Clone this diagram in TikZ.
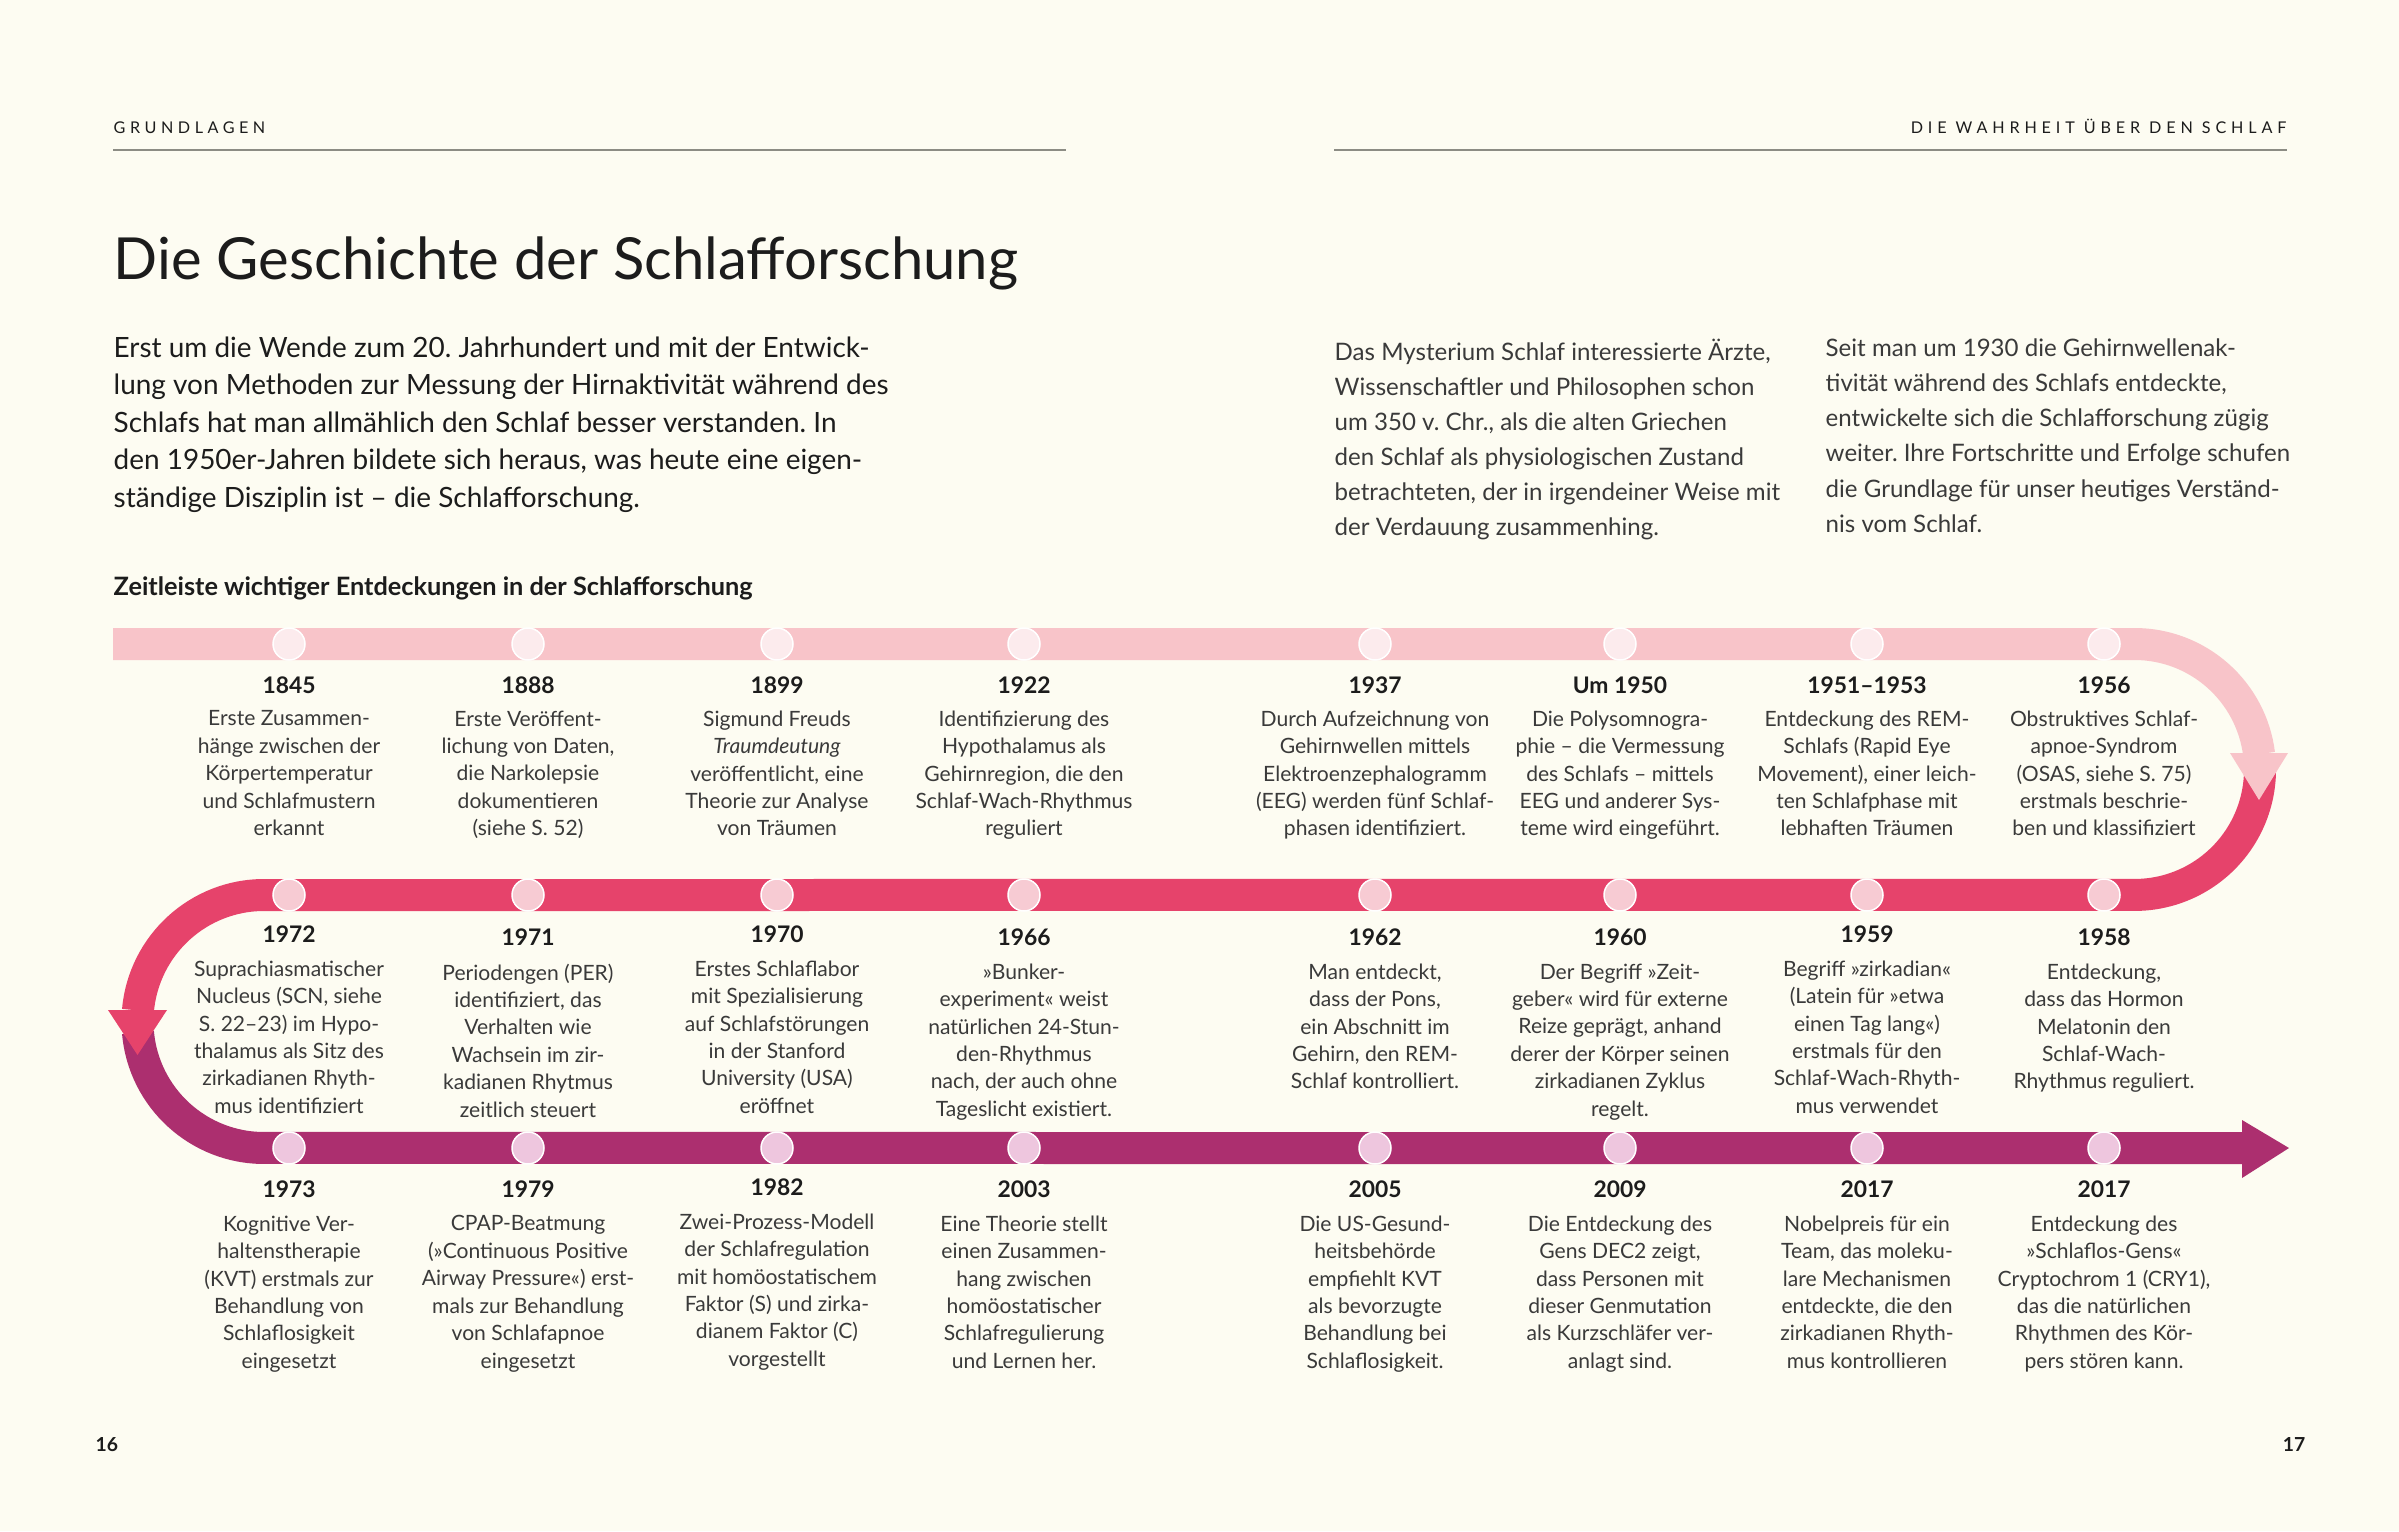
\documentclass[tikz,border=0pt]{standalone}
\usepackage{fontspec}
\setmainfont{Lato}
\frenchspacing

\definecolor{paper}{RGB}{253,252,242}
\definecolor{rose}{RGB}{248,196,201}
\definecolor{raspberry}{RGB}{230,67,107}
\definecolor{plum}{RGB}{172,47,111}
\definecolor{roselight}{RGB}{252,235,237}
\definecolor{raspberrylight}{RGB}{247,203,211}
\definecolor{plumlight}{RGB}{238,198,222}
\definecolor{ink}{RGB}{28,28,28}
\definecolor{softink}{RGB}{58,58,58}
\definecolor{rulegray}{RGB}{140,140,132}

\begin{document}
\begin{tikzpicture}[x=0.1mm,y=-0.1mm,
  year/.style={font=\fontsize{6.5}{7}\selectfont\bfseries,text=ink,inner sep=0},
  info/.style={font=\fontsize{6}{7.8}\selectfont,text=softink,align=center,
    anchor=north,inner sep=0},
  dot/.style={circle,minimum size=3.2mm,inner sep=0,draw=white,line width=0.15mm},
  topdot/.style={dot,fill=roselight},
  middot/.style={dot,fill=raspberrylight},
  lowdot/.style={dot,fill=plumlight},
  band/.style={line width=3.2mm}]

  \fill[paper] (0,0) rectangle (2399,1531);

  % page heads
  \node[anchor=base west,inner sep=0,text=ink] (head) at (113,133)
    {\fontsize{4.6}{5}\selectfont\addfontfeatures{LetterSpace=28}GRUNDLAGEN};
  \node[anchor=base east,inner sep=0,text=ink] (headright) at (2287,133)
    {\fontsize{4.6}{5}\selectfont\addfontfeatures{LetterSpace=30}DIE WAHRHEIT ÜBER DEN SCHLAF};
  \draw[rulegray,line width=0.25mm] (113,150) -- (1066,150);
  \draw[rulegray,line width=0.25mm] (1334,150) -- (2287,150);

  \node[anchor=base west,inner sep=0,text=ink] (title) at (113,279)
    {\fontsize{16.5}{19}\selectfont Die Geschichte der Schlafforschung};

  \node[anchor=north west,align=left,inner sep=0,text=ink,
    font=\fontsize{7.95}{10.67}\selectfont] (intro) at (113,336)
    {Erst um die Wende zum 20. Jahrhundert und mit der Entwick-\\
     lung von Methoden zur Messung der Hirnaktivität während des\\
     Schlafs hat man allmählich den Schlaf besser verstanden. In\\
     den 1950er-Jahren bildete sich heraus, was heute eine eigen-\\
     ständige Disziplin ist – die Schlafforschung.};

  \node[anchor=north west,align=left,inner sep=0,text=softink,
    font=\fontsize{6.85}{10}\selectfont] (colone) at (1334,338)
    {Das Mysterium Schlaf interessierte Ärzte,\\
     Wissenschaftler und Philosophen schon\\
     um 350 v. Chr., als die alten Griechen\\
     den Schlaf als physiologischen Zustand\\
     betrachteten, der in irgendeiner Weise mit\\
     der Verdauung zusammenhing.};
  \node[anchor=north west,align=left,inner sep=0,text=softink,
    font=\fontsize{6.85}{10}\selectfont] (coltwo) at (1825,338)
    {Seit man um 1930 die Gehirnwellenak-\\
     tivität während des Schlafs entdeckte,\\
     entwickelte sich die Schlafforschung zügig\\
     weiter. Ihre Fortschritte und Erfolge schufen\\
     die Grundlage für unser heutiges Verständ-\\
     nis vom Schlaf.};

  \node[anchor=base west,inner sep=0,text=ink] (caption) at (113,595)
    {\fontsize{7.2}{8}\selectfont\bfseries Zeitleiste wichtiger Entdeckungen in der Schlafforschung};

  % the winding band
  \draw[band,rose] (113,644) -- (2134.5,644)
    arc[start angle=90,end angle=7,radius=12.55mm];
  \draw[band,raspberry] (2259.7,760.7)
    arc[start angle=4,end angle=-90,radius=12.55mm] -- (264,895)
    arc[start angle=90,end angle=175,radius=12.65mm];
  \draw[band,plum] (138,1032.5)
    arc[start angle=185,end angle=270,radius=12.65mm] -- (2250,1148);
  \fill[rose] (2230,753) -- (2288,753) -- (2259,800) -- cycle;
  \fill[raspberry] (108,1010) -- (167,1010) -- (137.5,1055) -- cycle;
  \fill[plum] (2242,1120) -- (2289,1148) -- (2242,1178) -- cycle;

  % first row
  \node[topdot] (d1845) at (289,644) {};
  \node[topdot] (d1888) at (528,644) {};
  \node[topdot] (d1899) at (777,644) {};
  \node[topdot] (d1922) at (1024,644) {};
  \node[topdot] (d1937) at (1375,644) {};
  \node[topdot] (d1950) at (1620,644) {};
  \node[topdot] (d1951) at (1867,644) {};
  \node[topdot] (d1956) at (2104,644) {};

  \node[year] (y1845) at (289,685) {1845};
  \node[year] (y1888) at (528,685) {1888};
  \node[year] (y1899) at (777,685) {1899};
  \node[year] (y1922) at (1024,685) {1922};
  \node[year] (y1937) at (1375,685) {1937};
  \node[year] (y1950) at (1620,685) {Um 1950};
  \node[year] (y1951) at (1867,685) {1951–1953};
  \node[year] (y1956) at (2104,685) {1956};

  \node[info] (t1845) at (289,710)
    {Erste Zusammen-\\hänge zwischen der\\Körpertemperatur\\und Schlafmustern\\erkannt};
  \node[info] (t1888) at (528,710)
    {Erste Veröffent-\\lichung von Daten,\\die Narkolepsie\\dokumentieren\\(siehe S. 52)};
  \node[info] (t1899) at (777,710)
    {Sigmund Freuds\\\textit{Traumdeutung}\\veröffentlicht, eine\\Theorie zur Analyse\\von Träumen};
  \node[info] (t1922) at (1024,710)
    {Identifizierung des\\Hypothalamus als\\Gehirnregion, die den\\Schlaf-Wach-Rhythmus\\reguliert};
  \node[info] (t1937) at (1375,710)
    {Durch Aufzeichnung von\\Gehirnwellen mittels\\Elektroenzephalogramm\\(EEG) werden fünf Schlaf-\\phasen identifiziert.};
  \node[info] (t1950) at (1620,710)
    {Die Polysomnogra-\\phie – die Vermessung\\des Schlafs – mittels\\EEG und anderer Sys-\\teme wird eingeführt.};
  \node[info] (t1951) at (1867,710)
    {Entdeckung des REM-\\Schlafs (Rapid Eye\\Movement), einer leich-\\ten Schlafphase mit\\lebhaften Träumen};
  \node[info] (t1956) at (2104,710)
    {Obstruktives Schlaf-\\apnoe-Syndrom\\(OSAS, siehe S. 75)\\erstmals beschrie-\\ben und klassifiziert};

  % second row
  \node[middot] (d1972) at (289,895) {};
  \node[middot] (d1971) at (528,895) {};
  \node[middot] (d1970) at (777,895) {};
  \node[middot] (d1966) at (1024,895) {};
  \node[middot] (d1962) at (1375,895) {};
  \node[middot] (d1960) at (1620,895) {};
  \node[middot] (d1959) at (1867,895) {};
  \node[middot] (d1958) at (2104,895) {};

  \node[year] (y1972) at (289,934) {1972};
  \node[year] (y1971) at (528,937) {1971};
  \node[year] (y1970) at (777,934) {1970};
  \node[year] (y1966) at (1024,937) {1966};
  \node[year] (y1962) at (1375,937) {1962};
  \node[year] (y1960) at (1620,937) {1960};
  \node[year] (y1959) at (1867,934) {1959};
  \node[year] (y1958) at (2104,937) {1958};

  \node[info] (t1972) at (289,960)
    {Suprachiasmatischer\\Nucleus (SCN, siehe\\S. 22–23) im Hypo-\\thalamus als Sitz des\\zirkadianen Rhyth-\\mus identifiziert};
  \node[info] (t1971) at (528,963)
    {Periodengen (PER)\\identifiziert, das\\Verhalten wie\\Wachsein im zir-\\kadianen Rhytmus\\zeitlich steuert};
  \node[info] (t1970) at (777,960)
    {Erstes Schlaflabor\\mit Spezialisierung\\auf Schlafstörungen\\in der Stanford\\University (USA)\\eröffnet};
  \node[info] (t1966) at (1024,963)
    {»Bunker-\\experiment« weist\\natürlichen 24-Stun-\\den-Rhythmus\\nach, der auch ohne\\Tageslicht existiert.};
  \node[info] (t1962) at (1375,963)
    {Man entdeckt,\\dass der Pons,\\ein Abschnitt im\\Gehirn, den REM-\\Schlaf kontrolliert.};
  \node[info] (t1960) at (1620,963)
    {Der Begriff »Zeit-\\geber« wird für externe\\Reize geprägt, anhand\\derer der Körper seinen\\zirkadianen Zyklus\\regelt.};
  \node[info] (t1959) at (1867,960)
    {Begriff »zirkadian«\\(Latein für »etwa\\einen Tag lang«)\\erstmals für den\\Schlaf-Wach-Rhyth-\\mus verwendet};
  \node[info] (t1958) at (2104,963)
    {Entdeckung,\\dass das Hormon\\Melatonin den\\Schlaf-Wach-\\Rhythmus reguliert.};

  % third row
  \node[lowdot] (d1973) at (289,1148) {};
  \node[lowdot] (d1979) at (528,1148) {};
  \node[lowdot] (d1982) at (777,1148) {};
  \node[lowdot] (d2003) at (1024,1148) {};
  \node[lowdot] (d2005) at (1375,1148) {};
  \node[lowdot] (d2009) at (1620,1148) {};
  \node[lowdot] (d2017a) at (1867,1148) {};
  \node[lowdot] (d2017b) at (2104,1148) {};

  \node[year] (y1973) at (289,1189) {1973};
  \node[year] (y1979) at (528,1189) {1979};
  \node[year] (y1982) at (777,1187) {1982};
  \node[year] (y2003) at (1024,1189) {2003};
  \node[year] (y2005) at (1375,1189) {2005};
  \node[year] (y2009) at (1620,1189) {2009};
  \node[year] (y2017a) at (1867,1189) {2017};
  \node[year] (y2017b) at (2104,1189) {2017};

  \node[info] (t1973) at (289,1215)
    {Kognitive Ver-\\haltenstherapie\\(KVT) erstmals zur\\Behandlung von\\Schlaflosigkeit\\eingesetzt};
  \node[info] (t1979) at (528,1215)
    {CPAP-Beatmung\\(»Continuous Positive\\Airway Pressure«) erst-\\mals zur Behandlung\\von Schlafapnoe\\eingesetzt};
  \node[info] (t1982) at (777,1213)
    {Zwei-Prozess-Modell\\der Schlafregulation\\mit homöostatischem\\Faktor (S) und zirka-\\dianem Faktor (C)\\vorgestellt};
  \node[info] (t2003) at (1024,1215)
    {Eine Theorie stellt\\einen Zusammen-\\hang zwischen\\homöostatischer\\Schlafregulierung\\und Lernen her.};
  \node[info] (t2005) at (1375,1215)
    {Die US-Gesund-\\heitsbehörde\\empfiehlt KVT\\als bevorzugte\\Behandlung bei\\Schlaflosigkeit.};
  \node[info] (t2009) at (1620,1215)
    {Die Entdeckung des\\Gens DEC2 zeigt,\\dass Personen mit\\dieser Genmutation\\als Kurzschläfer ver-\\anlagt sind.};
  \node[info] (t2017a) at (1867,1215)
    {Nobelpreis für ein\\Team, das moleku-\\lare Mechanismen\\entdeckte, die den\\zirkadianen Rhyth-\\mus kontrollieren};
  \node[info] (t2017b) at (2104,1215)
    {Entdeckung des\\»Schlaflos-Gens«\\Cryptochrom 1 (CRY1),\\das die natürlichen\\Rhythmen des Kör-\\pers stören kann.};

  % folios
  \node[anchor=base west,inner sep=0,text=ink] (folioleft) at (95,1451)
    {\fontsize{5.5}{6}\selectfont\bfseries 16};
  \node[anchor=base east,inner sep=0,text=ink] (folioright) at (2306,1451)
    {\fontsize{5.5}{6}\selectfont\bfseries 17};
\end{tikzpicture}
\end{document}
